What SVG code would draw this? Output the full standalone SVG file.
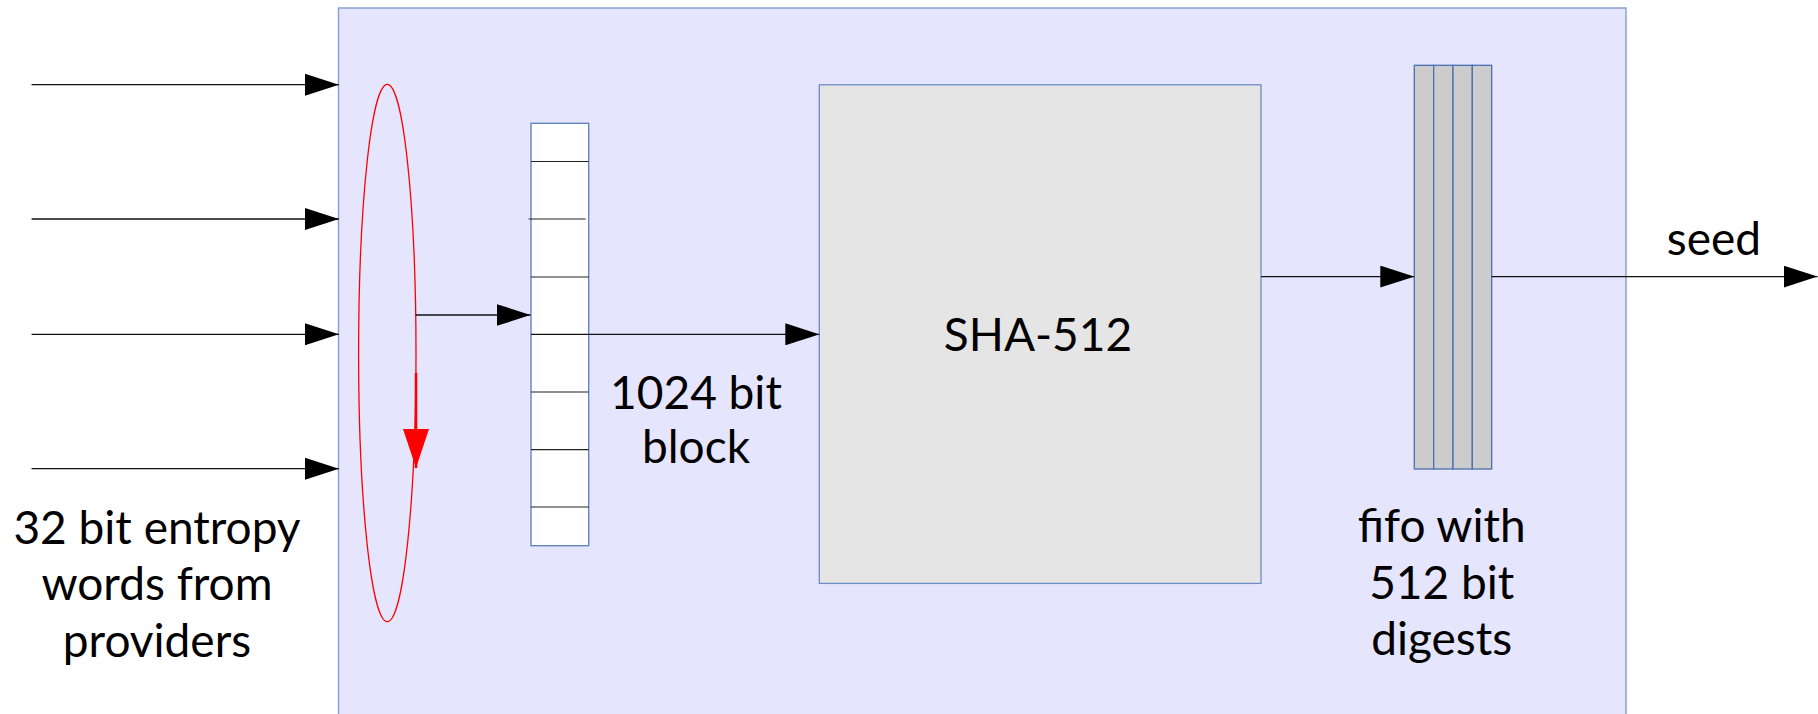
<svg xmlns="http://www.w3.org/2000/svg" width="1818" height="714" viewBox="0 0 1818 714">
<style>
.conn{stroke:#111;stroke-width:1.3;fill:none}
.div{stroke:#222;stroke-width:1.2}
.lbl{font-family:Lato,"Liberation Sans",sans-serif;font-size:46px;fill:#000;text-anchor:middle}
</style>
<defs>
<marker id="ah" markerUnits="userSpaceOnUse" markerWidth="34" markerHeight="22" refX="34" refY="11" orient="auto" viewBox="0 0 34 22">
<path d="M0,0 L34,11 L0,22 z" fill="#000"/>
</marker>
<marker id="ahr" markerUnits="userSpaceOnUse" markerWidth="39" markerHeight="26" refX="39" refY="13" orient="auto" viewBox="0 0 39 26">
<path d="M0,0 L39,13 L0,26 z" fill="#f00"/>
</marker>
</defs>
<rect width="1818" height="714" fill="#fff"/>
<g id="system">
<rect x="338.5" y="8" width="1287.5" height="720" fill="#e5e5fd" stroke="#8aa2d2" stroke-width="1.5"/>
</g>
<g id="selector">
<ellipse cx="387.3" cy="353" rx="28.7" ry="268.7" fill="none" stroke="#f00" stroke-width="1.3"/>
</g>
<g id="register">
<rect x="531" y="123.3" width="57.7" height="422.4" fill="#fff" stroke="#5a7dbd" stroke-width="1.3"/>
<line class="div" x1="531" y1="161.5" x2="588.7" y2="161.5"/>
<line class="div" x1="528.7" y1="219" x2="585.7" y2="219"/>
<line class="div" x1="531" y1="277" x2="588.7" y2="277"/>
<line class="div" x1="531" y1="392" x2="588.7" y2="392"/>
<line class="div" x1="531" y1="449.7" x2="588.7" y2="449.7"/>
<line class="div" x1="531" y1="507" x2="588.7" y2="507"/>
</g>
<g id="sha512">
<rect x="819.3" y="84.8" width="441.7" height="498.6" fill="#e5e5e5" stroke="#6d8dc6" stroke-width="1.3"/>
<text class="lbl" x="1038" y="351">SHA-512</text>
</g>
<g id="fifo">
<rect x="1414.3" y="65.3" width="19.4" height="403.7" fill="#cccccc" stroke="#4a70b0" stroke-width="1.3"/>
<rect x="1433.7" y="65.3" width="19.3" height="403.7" fill="#cccccc" stroke="#4a70b0" stroke-width="1.3"/>
<rect x="1453" y="65.3" width="19.3" height="403.7" fill="#cccccc" stroke="#4a70b0" stroke-width="1.3"/>
<rect x="1472.3" y="65.3" width="19.4" height="403.7" fill="#cccccc" stroke="#4a70b0" stroke-width="1.3"/>
</g>
<g id="connectors">
<path class="conn" d="M31.6,84.7 H338.9" marker-end="url(#ah)"/>
<path class="conn" d="M31.6,219 H338.9" marker-end="url(#ah)"/>
<path class="conn" d="M31.6,334.3 H338.9" marker-end="url(#ah)"/>
<path class="conn" d="M31.6,468.7 H338.9" marker-end="url(#ah)"/>
<path class="conn" d="M415.6,315 H530.5" marker-end="url(#ah)"/>
<path class="conn" d="M531,334.3 H819.3" marker-end="url(#ah)"/>
<path class="conn" d="M1261,276.6 H1414.3" marker-end="url(#ah)"/>
<path class="conn" d="M1491.7,276.6 H1817.5" marker-end="url(#ah)"/>
<path d="M416,373 V468" fill="none" stroke="#f00" stroke-width="2.6" marker-end="url(#ahr)"/>
</g>
<g id="labels">
<text class="lbl" x="157" y="543.5">32 bit entropy</text>
<text class="lbl" x="157" y="600">words from</text>
<text class="lbl" x="157" y="656.7">providers</text>
<text class="lbl" x="696" y="409.3">1024 bit</text>
<text class="lbl" x="696" y="463">block</text>
<text class="lbl" x="1714" y="255">seed</text>
<text class="lbl" x="1441.7" y="541.7">fifo with</text>
<text class="lbl" x="1441.7" y="599">512 bit</text>
<text class="lbl" x="1441.7" y="655">digests</text>
</g>
</svg>
